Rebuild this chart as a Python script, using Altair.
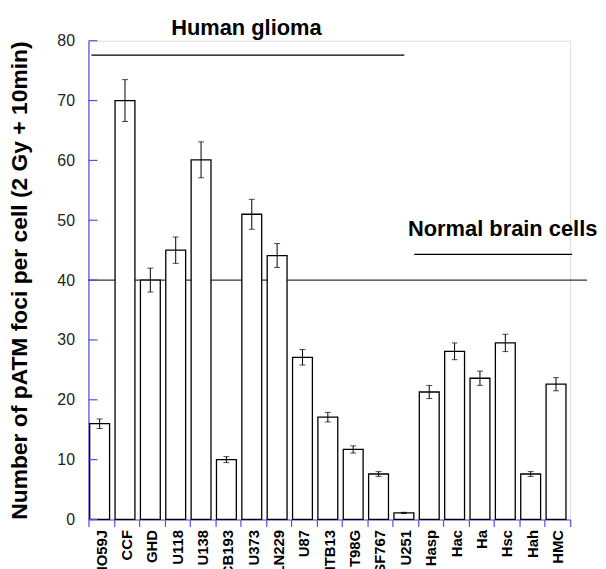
import altair as alt
import pandas as pd

cells = ["MO59J", "CCF", "GHD", "U118", "U138", "CB193", "U373", "LN229", "U87",
         "HTB13", "T98G", "SF767", "U251", "Hasp", "Hac", "Ha", "Hsc", "Hah", "HMC"]
foci = [16.0, 70.0, 40.0, 45.0, 60.1, 10.0, 51.0, 44.1, 27.1,
        17.1, 11.7, 7.6, 1.1, 21.3, 28.1, 23.6, 29.5, 7.6, 22.6]
err = [0.8, 3.5, 2.0, 2.2, 3.0, 0.5, 2.5, 2.0, 1.3,
       0.8, 0.6, 0.4, 0.1, 1.1, 1.4, 1.2, 1.45, 0.4, 1.1]
y_ticks = [0, 10, 20, 30, 40, 50, 60, 70, 80]
threshold = [40]

FONT = "Liberation Sans"
BLUE = "#5050ee"
W, H = 485, 482

df = pd.DataFrame({"cell": cells, "foci": foci, "err": err})
df["lo"] = df["foci"] - df["err"]
df["hi"] = df["foci"] + df["err"]

x_enc = alt.X("cell:N", sort=cells, scale=alt.Scale(paddingInner=0, paddingOuter=0),
              axis=alt.Axis(title=None, labelAngle=-90, labelFont=FONT, labelFontSize=15,
                            labelFontWeight="bold", labelColor="black", labelPadding=3,
                            domainColor=BLUE, tickColor=BLUE, tickSize=7, tickBand="extent",
                            domainWidth=1.2, tickWidth=1.2))
y_scale = alt.Scale(domain=[0, 80], nice=False)
y_enc = alt.Y("foci:Q", scale=y_scale,
              axis=alt.Axis(title="Number of pATM foci per cell (2 Gy + 10min)",
                            titleFont=FONT, titleFontSize=23, titleFontWeight="bold",
                            titleColor="black", titlePadding=26,
                            values=y_ticks, labelFont=FONT, labelFontSize=16, labelColor="#222222",
                            labelPadding=14, tickSize=0, domainColor=BLUE, domainWidth=1.2,
                            grid=False))

base = alt.Chart(df)
bars = base.mark_bar(fill="white", stroke="black", strokeWidth=1.3, size=20, xOffset=-1.5).encode(
    x=x_enc, y=y_enc)
rules = base.mark_rule(color="black", strokeWidth=1, xOffset=-1.5).encode(
    x=alt.X("cell:N", sort=cells), y=alt.Y("lo:Q", scale=y_scale), y2="hi:Q")
cap_lo = base.mark_tick(color="black", size=6, thickness=1, xOffset=-1.5).encode(
    x=alt.X("cell:N", sort=cells), y=alt.Y("lo:Q", scale=y_scale))
cap_hi = base.mark_tick(color="black", size=6, thickness=1, xOffset=-1.5).encode(
    x=alt.X("cell:N", sort=cells), y=alt.Y("hi:Q", scale=y_scale))

ticks_df = pd.DataFrame({"v": y_ticks})
ytick_marks = alt.Chart(ticks_df).mark_rule(color=BLUE, strokeWidth=1.2).encode(
    y=alt.Y("v:Q", scale=y_scale), x=alt.value(0), x2=alt.value(9))

thr = alt.Chart(pd.DataFrame({"v": threshold})).mark_rule(color="black", strokeWidth=1).encode(
    y=alt.Y("v:Q", scale=y_scale), x=alt.value(0), x2=alt.value(502))

groups = pd.DataFrame({"label": ["Human glioma", "Normal brain cells"],
                       "line_y": [77.6, 44.3], "text_y": [82.2, 48.5],
                       "x0": [3, 328], "x1": [318, 487], "xt": [159, 417]})
glines = alt.Chart(groups).mark_rule(color="black", strokeWidth=1.2).encode(
    y=alt.Y("line_y:Q", scale=y_scale), x=alt.X("x0:Q", scale=None), x2="x1:Q")
gtext = alt.Chart(groups).mark_text(font=FONT, fontSize=22, fontWeight="bold", color="black",
                                    baseline="middle", align="center").encode(
    y=alt.Y("text_y:Q", scale=y_scale), x=alt.X("xt:Q", scale=None), text="label:N")

chart = alt.layer(thr, bars, rules, cap_lo, cap_hi, ytick_marks, glines, gtext).properties(
    width=W, height=H, padding={"left": 0, "top": 6, "right": 0, "bottom": 0}
).configure_view(stroke=None).configure(background="white")

chart.save("out.html", embed_options={"renderer": "svg", "actions": False})
